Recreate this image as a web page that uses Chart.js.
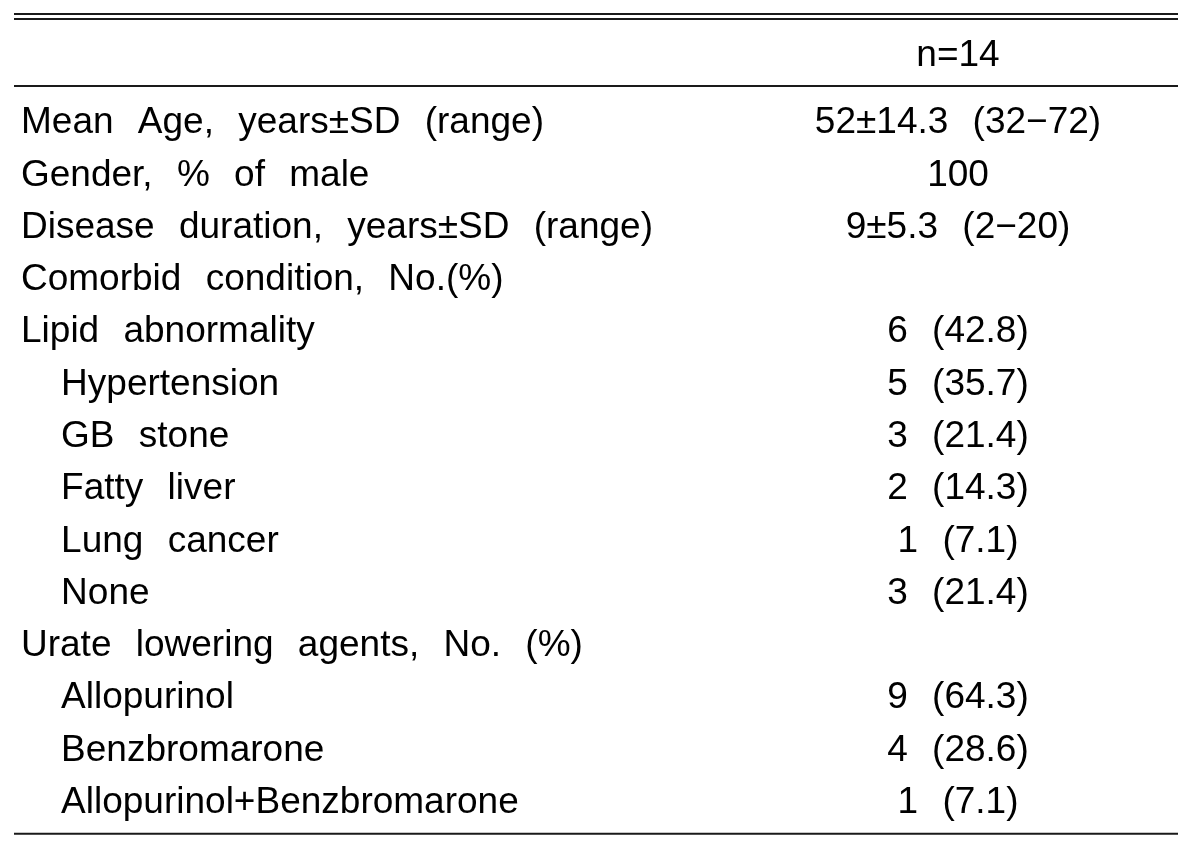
<!DOCTYPE html>
<html>
<head>
<meta charset="utf-8">
<title>Patient characteristics</title>
<script src="https://cdn.jsdelivr.net/npm/chart.js@4.4.1/dist/chart.umd.min.js"></script>
<style>
  html, body { margin: 0; padding: 0; background: #fff; }
  #wrap { width: 1200px; height: 854px; position: relative; }
</style>
</head>
<body>
<div id="wrap"><canvas id="tableChart"></canvas></div>
<script>
// Table content
const columnHeaders = ['n=14'];

const rowLabels = [
    'Mean Age, years±SD (range)',
    'Gender, % of male',
    'Disease duration, years±SD (range)',
    'Comorbid condition, No.(%)',
    'Lipid abnormality',
    'Hypertension',
    'GB stone',
    'Fatty liver',
    'Lung cancer',
    'None',
    'Urate lowering agents, No. (%)',
    'Allopurinol',
    'Benzbromarone',
    'Allopurinol+Benzbromarone'
];

// 0 = main row, 1 = indented sub row
const rowLevels = [0, 0, 0, 0, 0, 1, 1, 1, 1, 1, 0, 1, 1, 1];

const cellValues = [
    '52±14.3 (32−72)',
    '100',
    '9±5.3 (2−20)',
    '',
    '6 (42.8)',
    '5 (35.7)',
    '3 (21.4)',
    '2 (14.3)',
    '1 (7.1)',
    '3 (21.4)',
    '',
    '9 (64.3)',
    '4 (28.6)',
    '1 (7.1)'
];

const FONT = "'Liberation Sans', Arial, sans-serif";
const FONT_SIZE = 37;
const WORD_GAP = '14px';
const INDENT = '\u2003\u200A';

// Draws the cell texts and the table rules
const tablePlugin = {
    id: 'tableRules',
    beforeDraw(chart) {
        chart.ctx.wordSpacing = WORD_GAP;
    },
    afterDatasetsDraw(chart) {
        const ctx = chart.ctx;
        const meta = chart.getDatasetMeta(0);
        ctx.save();
        ctx.wordSpacing = WORD_GAP;
        ctx.font = `${FONT_SIZE}px ${FONT}`;
        ctx.fillStyle = '#000';
        ctx.textAlign = 'center';
        ctx.textBaseline = 'middle';
        meta.data.forEach((pt, i) => {
            ctx.fillText(cellValues[i], pt.x, pt.y);
        });
        ctx.restore();
    },
    afterDraw(chart) {
        const ctx = chart.ctx;
        const { right, top, bottom } = chart.chartArea;
        const x0 = 14;
        const rules = [top - 83, top - 78, top - 11, bottom + 5];
        ctx.save();
        ctx.strokeStyle = '#1a1a1a';
        ctx.lineWidth = 2;
        rules.forEach(y => {
            ctx.beginPath();
            ctx.moveTo(x0, y);
            ctx.lineTo(right, y);
            ctx.stroke();
        });
        ctx.restore();
    }
};

const ctx = document.getElementById('tableChart');

new Chart(ctx, {
    type: 'scatter',
    data: {
        datasets: [{
            data: rowLabels.map(label => ({ x: columnHeaders[0], y: label })),
            pointRadius: 0,
            pointHoverRadius: 0
        }]
    },
    options: {
        responsive: true,
        maintainAspectRatio: false,
        animation: false,
        events: [],
        layout: {
            padding: { left: 21, right: 22, top: 37, bottom: 22 }
        },
        plugins: {
            legend: { display: false },
            tooltip: { enabled: false }
        },
        scales: {
            x: {
                type: 'category',
                labels: columnHeaders,
                position: 'top',
                offset: true,
                grid: { display: false, drawTicks: false },
                border: { display: false },
                afterFit: (scale) => { scale.height = 60; },
                ticks: {
                    autoSkip: false,
                    maxRotation: 0,
                    padding: 19,
                    color: '#000',
                    font: { family: FONT, size: FONT_SIZE }
                }
            },
            y: {
                type: 'category',
                labels: rowLabels,
                offset: true,
                grid: { display: false, drawTicks: false },
                border: { display: false },
                afterFit: (scale) => { scale.width = 717; },
                ticks: {
                    autoSkip: false,
                    crossAlign: 'far',
                    color: '#000',
                    font: { family: FONT, size: FONT_SIZE },
                    callback: function (value, index) {
                        const label = this.getLabelForValue(value);
                        return rowLevels[index] ? INDENT + label : label;
                    }
                }
            }
        }
    },
    plugins: [tablePlugin]
});
</script>
</body>
</html>
